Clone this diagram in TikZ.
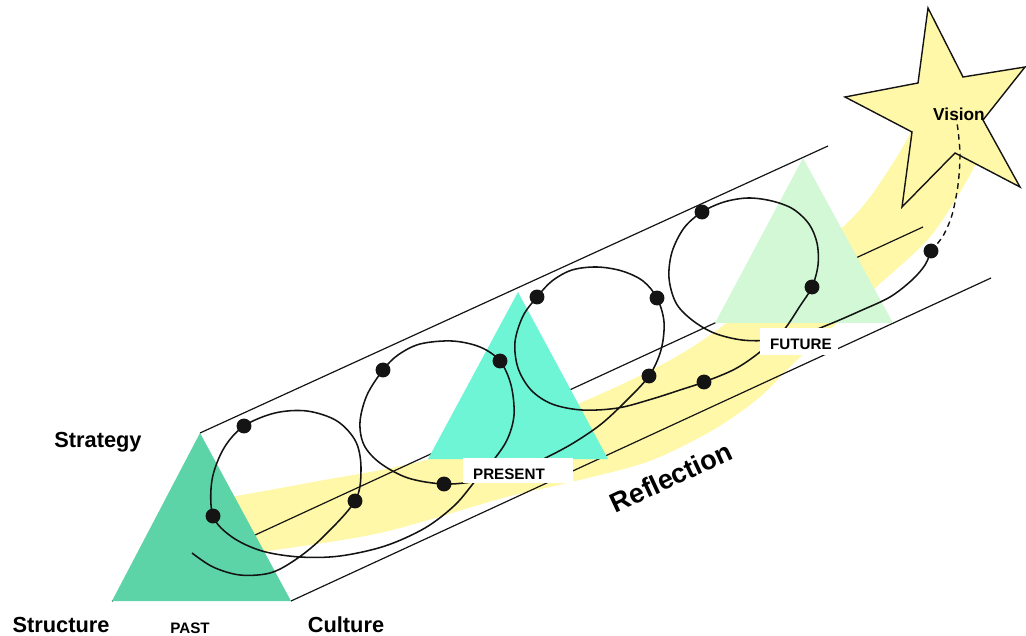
\documentclass[tikz,border=0pt]{standalone}
\usepackage{fontspec}
\setmainfont{Liberation Sans}
\usepackage{xcolor}
\usepackage{tikz}
\definecolor{figline}{RGB}{20,20,20}
\definecolor{figpast}{RGB}{93,211,168}
\definecolor{figpres}{RGB}{110,245,214}
\definecolor{figfut}{RGB}{210,248,214}
\definecolor{figband}{RGB}{255,248,168}
\tikzset{
  prism/.style ={draw=figline, line width=0.85pt},
  coil/.style  ={draw=figline, line width=1.1pt, line join=round},
  lab/.style   ={font=\fontsize{15.5}{18}\selectfont\bfseries, inner sep=0pt},
  labs/.style  ={font=\fontsize{10.8}{13}\selectfont\bfseries, inner sep=1pt},
  labv/.style  ={font=\fontsize{12.3}{14}\selectfont\bfseries, inner sep=1pt},
  labr/.style  ={font=\fontsize{19.3}{22}\selectfont\bfseries, inner sep=1pt},
}

\begin{document}
\begin{tikzpicture}[x=0.025cm,y=-0.025cm]
  \useasboundingbox (0,0) rectangle (1026,636);
  % reflection band
  \fill[figband] plot[smooth] coordinates {(225,498) (313,482) (433,458) (580,403) (700,342) (843,227) (893,163) (925,105)}
    -- plot[smooth] coordinates {(985,140) (970,175) (930,237) (873,290) (797,360) (760,397) (713,430) (647,462) (563,484) (503,498) (380,533) (262,552) (225,558)}
    -- cycle;
  \coordinate (pastA) at (200,433);
  \coordinate (pastL) at (112,601);
  \coordinate (pastR) at (291,601);
  \coordinate (topE) at (828,146);
  \coordinate (midE) at (923,227);
  \coordinate (botE) at (991,278);
  \draw[prism] (pastA) -- (topE);
  \draw[prism] (pastL) -- (midE);
  \draw[prism] (pastR) -- (botE);
  \fill[figpast] (pastA) -- (pastL) -- (pastR) -- cycle;
  \fill[figpres] (518,292) -- (428,459) -- (608,459) -- cycle;
  \fill[figfut] (803,158) -- (715,323) -- (893,323) -- cycle;
  \draw[figline, line width=1pt, fill=figband, line join=miter]
    (928,8) -- (963,77) -- (1025,67) -- (983,120) -- (1020,187) -- (955,153)
    -- (902,207) -- (912,132) -- (845,97) -- (918,83) -- cycle;
  \draw[coil] plot[smooth, tension=0.55] coordinates {
    (192,553) (213,567) (240,575) (270,573) (295,560) (322,538) (355,501)
    (361,470) (356,442) (337,421) (307,411) (275,413) (244,426)
    (224,448) (212,480) (213,516) (232,537) (262,551) (300,557) (340,556)
    (385,546) (425,528) (455,505) (476,480) (492,462) (507,440) (514,415)
    (511,385) (500,361) (480,347) (452,341) (420,344) (398,355) (383,370)
    (367,395) (360,422) (364,445) (380,463) (408,478) (444,484) (478,481)
    (510,473) (537,462) (570,445) (600,425) (625,402) (649,376) (661,350)
    (664,322) (657,298) (643,281) (622,271) (597,267) (572,270) (552,281)
    (537,297) (523,316) (515,342) (518,368) (531,390) (552,404) (582,410)
    (618,408) (652,399) (680,390) (704,382) (735,369) (760,352) (783,331)
    (800,306) (812,287) (818,265) (817,243) (809,224) (793,209) (772,201)
    (748,198) (724,202) (702,212) (684,228) (672,252) (669,278) (676,303)
    (692,320) (714,333) (742,340) (772,340) (803,334) (830,324) (860,311)
    (890,297) (912,280) (925,265) (931,251)};
  \draw[coil, line width=1pt, dash pattern=on 4pt off 3pt] plot[smooth] coordinates {
    (931,251) (943,236) (952,215) (958,185) (960,155) (958,130) (956,118)};
  \fill[figline] (244,426) circle (5.3pt);
  \fill[figline] (213,516) circle (5.3pt);
  \fill[figline] (355,501) circle (5.3pt);
  \fill[figline] (383,370) circle (5.3pt);
  \fill[figline] (500,361) circle (5.3pt);
  \fill[figline] (444,484) circle (5.3pt);
  \fill[figline] (537,297) circle (5.3pt);
  \fill[figline] (657,298) circle (5.3pt);
  \fill[figline] (649,376) circle (5.3pt);
  \fill[figline] (704,382) circle (5.3pt);
  \fill[figline] (702,212) circle (5.3pt);
  \fill[figline] (812,287) circle (5.3pt);
  \fill[figline] (931,251) circle (5.3pt);
  \fill[white] (463,458) rectangle (573,483);
  \fill[white] (760,328) rectangle (838,355);
  \node[labs] (present) at (509,474) {PRESENT};
  \node[labs] (future) at (801,344) {FUTURE};
  \node[labs] (past) at (190,628) {PAST};
  \node[lab] (strategy) at (98,442) {Strategy};
  \node[lab] (structure) at (61,625) {Structure};
  \node[lab] (culture) at (346,625) {Culture};
  \node[labv] (vision) at (959,114) {Vision};
  \node[labr, rotate=25] (reflection) at (671,477) {Reflection};
\end{tikzpicture}
\end{document}
